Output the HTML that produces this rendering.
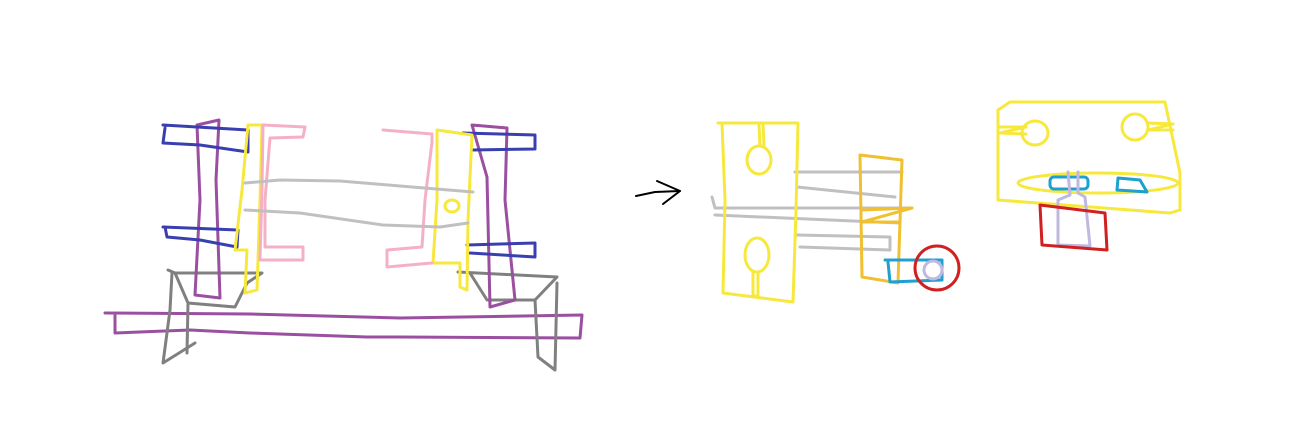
<!DOCTYPE html>
<html><head><meta charset="utf-8"><style>html,body{margin:0;padding:0;background:#fff}svg{display:block}</style></head>
<body>
<svg width="1303" height="438" viewBox="0 0 1303 438" fill="none" stroke-width="3" stroke-linejoin="round" stroke-linecap="round">
<g>
  <polyline stroke="#9b4fa0" points="105,313 250,314 400,318 582,315 580,338 400,337 367,337 250,333 190,330 115,333 115,315"/>
  <polyline stroke="#808080" points="168,270 175,273 188,303 235,307 247,283 262,273 175,273"/>
  <polyline stroke="#808080" points="172,273 170,310 163,363 195,343"/>
  <polyline stroke="#808080" points="188,303 187,353"/>
  <polyline stroke="#808080" points="458,272 557,277 535,300 487,300 470,273"/>
  <polyline stroke="#808080" points="557,283 555,370 538,357 535,300"/>
  <polyline stroke="#9b4fa0" points="197,125 219,120 216,180 220,298 195,295 200,200 197,125"/>
  <polyline stroke="#9b4fa0" points="472,125 507,128 505,200 515,300 490,307 487,177 472,125"/>
  <polyline stroke="#3a3fb0" points="163,125 248,130 248,152 200,145 163,143 165,128"/>
  <polyline stroke="#3a3fb0" points="163,227 238,230 237,247 200,240 167,237 165,227"/>
  <polyline stroke="#3a3fb0" points="463,133 535,135 535,149 472,150"/>
  <polyline stroke="#3a3fb0" points="467,245 535,243 535,257 470,253"/>
  <polyline stroke="#f7e83c" points="248,125 262,125 260,200 257,290 245,293 247,250 235,250 242,190 248,125"/>
  <polyline stroke="#f5b0c5" points="263,125 305,127 303,137 270,138 265,200 265,247 303,247 303,260 260,260 262,190 263,125"/>
  <polyline stroke="#f7e83c" points="437,130 472,135 468,220 467,290 460,287 460,263 433,263 437,200 437,130"/>
  <polyline stroke="#f5b0c5" points="383,130 432,134 432,142 425,200 422,247 387,250 387,267 432,263"/>
  <polyline stroke="#c0c0c0" points="245,183 280,180 340,181 400,186 473,192"/>
  <polyline stroke="#c0c0c0" points="245,210 300,213 383,225 440,227 468,223"/>
  <ellipse stroke="#f7e83c" cx="452" cy="206" rx="7" ry="6"/>
</g>
<polyline stroke="#000" stroke-width="2" points="636,196 655,192 680,191"/>
<polyline stroke="#000" stroke-width="2" points="657,181 680,191 663,204"/>
<g>
  <polyline stroke="#c0c0c0" points="795,172 860,172 902,172"/>
  <polyline stroke="#c0c0c0" points="797,187 895,197"/>
  <polyline stroke="#c0c0c0" points="712,197 715,208 800,208 912,208"/>
  <polyline stroke="#c0c0c0" points="715,215 900,223"/>
  <polyline stroke="#c0c0c0" points="797,235 890,237 890,250 800,247"/>
  <polyline stroke="#f7e83c" points="718,123 798,123 796,210 793,302 723,293 725,200 722,123"/>
  <ellipse stroke="#f7e83c" cx="759" cy="160" rx="12" ry="14"/>
  <polyline stroke="#f7e83c" points="759,124 760,146 764,146 763,124"/>
  <ellipse stroke="#f7e83c" cx="757" cy="255" rx="12" ry="17"/>
  <polyline stroke="#f7e83c" points="753,272 753,296 758,296 758,272"/>
  <polyline stroke="#f0c030" points="860,155 902,160 898,283 862,277 860,155"/>
  <polyline stroke="#f0c030" points="862,210 912,208 862,222 898,222"/>
  <polyline stroke="#1fa0d0" points="885,260 942,260 942,280 890,282 888,262"/>
  <circle stroke="#d02020" cx="937" cy="268" r="22"/>
  <circle stroke="#c0b8e0" cx="933" cy="270" r="9"/>
</g>
<g>
  <polyline stroke="#f7e83c" points="998,110 1010,102 1165,102 1180,173 1180,210 1170,213 998,200 998,110"/>
  <ellipse stroke="#f7e83c" cx="1035" cy="133" rx="13" ry="12"/>
  <polyline stroke="#f7e83c" points="1000,127 1026,127 1000,133 1026,134"/>
  <circle stroke="#f7e83c" cx="1135" cy="127" r="13"/>
  <polyline stroke="#f7e83c" points="1148,123 1173,124 1148,130 1173,130"/>
  <ellipse stroke="#f7e83c" cx="1098" cy="183" rx="80" ry="10"/>
  <rect stroke="#1fa0d0" x="1050" y="177" width="38" height="12" rx="4"/>
  <polyline stroke="#1fa0d0" points="1118,178 1140,180 1147,192 1117,190 1118,178"/>
  <polyline stroke="#c0b8e0" points="1068,172 1070,195 1058,200 1058,245 1090,246 1085,197 1078,193 1078,172"/>
  <polyline stroke="#d02020" points="1040,205 1105,213 1107,250 1042,245 1040,205"/>
</g>
</svg>
</body></html>
